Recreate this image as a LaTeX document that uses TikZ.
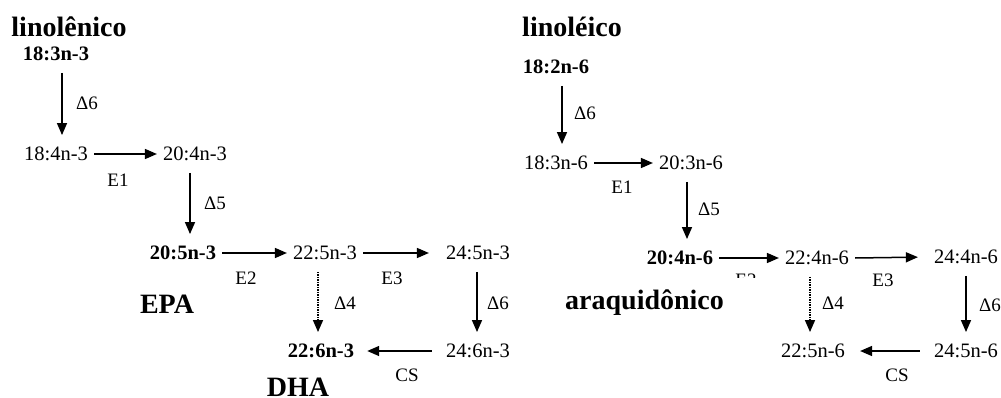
\documentclass[tikz,border=0pt]{standalone}
\usepackage{fontspec}
\setmainfont{Liberation Serif}
\usetikzlibrary{arrows.meta}
\begin{document}
\begin{tikzpicture}[x=1pt,y=-1pt,
  sp/.style={font=\fontsize{20.5}{24}\selectfont, text height=13.5pt, text depth=0pt, inner xsep=6pt, inner ysep=12pt},
  spb/.style={sp, font=\fontsize{20.5}{24}\selectfont\bfseries},
  lab/.style={font=\fontsize{19}{22}\selectfont, text height=13pt, text depth=0pt, inner sep=0pt},
  ttl/.style={font=\fontsize{28}{32}\selectfont\bfseries, text height=19pt, text depth=0pt, inner sep=0pt},
  arr/.style={line width=1.5pt, -{Triangle[length=12pt,width=10pt]}},
  darr/.style={arr, densely dotted}]
\useasboundingbox (0,0) rectangle (1001,398);
% ---------- left pathway ----------
\node[ttl] (t1) at (69,27) {linolênico};
\node[spb] (a1) at (56,54) {18:3n-3};
\node[sp]  (a2) at (56,154) {18:4n-3};
\node[sp]  (a3) at (195,154) {20:4n-3};
\node[spb] (a4) at (183,253) {20:5n-3};
\node[sp]  (a5) at (325,253) {22:5n-3};
\node[sp]  (a6) at (478,253) {24:5n-3};
\node[sp]  (a7) at (478,351) {24:6n-3};
\node[spb] (a8) at (321,351) {22:6n-3};
\node[ttl, text height=18.5pt] (epa) at (167,304) {EPA};
\node[ttl, text height=18.5pt] (dha) at (298,387.5) {DHA};
\node[lab] (la1) at (87,103) {Δ6};
\node[lab] (la2) at (118,180) {E1};
\node[lab] (la3) at (215,203) {Δ5};
\node[lab] (la4) at (246,278) {E2};
\node[lab] (la5) at (392,278) {E3};
\node[lab] (la6) at (345,303) {Δ4};
\node[lab] (la7) at (498,303) {Δ6};
\node[lab] (la8) at (407,375) {CS};
\draw[arr] ([xshift=6pt]a1.south) -- ([xshift=6pt]a1.south |- a2.north);
\draw[arr] (a2.east) -- (a3.west);
\draw[arr] ([xshift=-5pt]a3.south) -- ([xshift=-5pt]a3.south |- a4.north);
\draw[arr] (a4.east) -- (a5.west);
\draw[arr, shorten >=11pt] (a5.east) -- (a6.west);
\draw[arr] ([xshift=-1pt]a6.south) -- ([xshift=-1pt]a6.south |- a7.north);
\draw[darr] ([xshift=-7pt]a5.south) -- ([xshift=-7pt]a5.south |- a8.north);
\draw[arr, shorten <=8pt, shorten >=7pt] (a7.west) -- (a8.east);
% ---------- right pathway ----------
\node[ttl] (t2) at (572,27) {linoléico};
\node[spb] (b1) at (556,67) {18:2n-6};
\node[sp]  (b2) at (556,163) {18:3n-6};
\node[sp]  (b3) at (691,163) {20:3n-6};
\node[spb] (b4) at (680,258) {20:4n-6};
\node[sp]  (b5) at (817,258) {22:4n-6};
\node[sp]  (b6) at (966,257) {24:4n-6};
\node[sp]  (b7) at (966,351) {24:5n-6};
\node[sp]  (b8) at (813,351) {22:5n-6};
\node[lab] (lb1) at (585,113) {Δ6};
\node[lab] (lb2) at (622,187) {E1};
\node[lab] (lb3) at (709,209) {Δ5};
\node[lab] (lb4) at (746,280) {E2};
\node[lab] (lb5) at (883,280) {E3};
\node[lab] (lb6) at (833,303) {Δ4};
\node[lab] (lb7) at (990,305) {Δ6};
\node[lab] (lb8) at (897,375) {CS};
\node[ttl, anchor=base west, text height=31.5pt, text depth=8pt, fill=white] (ara) at (565,309.5) {araquidônico\hspace*{45pt}};
\draw[arr] ([xshift=6pt]b1.south) -- ([xshift=6pt]b1.south |- b2.north);
\draw[arr] (b2.east) -- (b3.west);
\draw[arr] ([xshift=-4pt]b3.south) -- ([xshift=-4pt]b3.south |- b4.north);
\draw[arr] (b4.east) -- (b5.west);
\draw[arr, shorten >=10pt] (b5.east) -- (b6.west);
\draw[arr] (b6.south) -- (b7.north);
\draw[darr] ([xshift=-7pt]b5.south) -- ([xshift=-7pt]b5.south |- b8.north);
\draw[arr, shorten <=8pt, shorten >=9pt] (b7.west) -- (b8.east);
\end{tikzpicture}
\end{document}
